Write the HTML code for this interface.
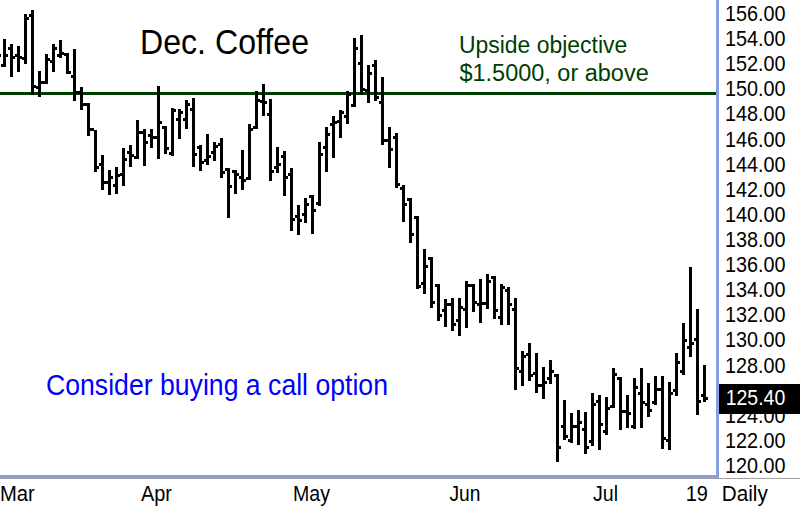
<!DOCTYPE html>
<html><head><meta charset="utf-8"><style>
html,body{margin:0;padding:0;background:#fff;}
body{width:800px;height:510px;overflow:hidden;position:relative;}
svg{position:absolute;left:0;top:0;}
text{font-family:"Liberation Sans",sans-serif;}
</style></head><body>
<svg width="800" height="510" viewBox="0 0 800 510">
<rect x="0" y="0" width="800" height="510" fill="#fff"/>
<g shape-rendering="crispEdges">
<rect x="0" y="92" width="716" height="3" fill="#003d00"/>
<g fill="#000"><rect x="3" y="39" width="3" height="28"/><rect x="1" y="64" width="2" height="3"/><rect x="6" y="54" width="2" height="3"/><rect x="10" y="44" width="3" height="33"/><rect x="8" y="47" width="2" height="3"/><rect x="13" y="56" width="2" height="3"/><rect x="17" y="46" width="3" height="26"/><rect x="15" y="54" width="2" height="3"/><rect x="20" y="56" width="2" height="3"/><rect x="24" y="14" width="3" height="50"/><rect x="22" y="57" width="2" height="3"/><rect x="27" y="17" width="2" height="3"/><rect x="31" y="10" width="3" height="85"/><rect x="29" y="14" width="2" height="3"/><rect x="34" y="85" width="2" height="3"/><rect x="38" y="71" width="3" height="26"/><rect x="36" y="86" width="2" height="3"/><rect x="41" y="81" width="2" height="3"/><rect x="45" y="54" width="3" height="30"/><rect x="43" y="81" width="2" height="3"/><rect x="48" y="58" width="2" height="3"/><rect x="52" y="44" width="3" height="28"/><rect x="50" y="60" width="2" height="3"/><rect x="55" y="47" width="2" height="3"/><rect x="59" y="40" width="3" height="18"/><rect x="57" y="54" width="2" height="3"/><rect x="62" y="52" width="2" height="3"/><rect x="66" y="53" width="3" height="21"/><rect x="64" y="53" width="2" height="3"/><rect x="69" y="71" width="2" height="3"/><rect x="73" y="49" width="3" height="52"/><rect x="71" y="75" width="2" height="3"/><rect x="76" y="91" width="2" height="3"/><rect x="80" y="87" width="3" height="23"/><rect x="78" y="91" width="2" height="3"/><rect x="83" y="103" width="2" height="3"/><rect x="87" y="103" width="3" height="33"/><rect x="85" y="103" width="2" height="3"/><rect x="90" y="128" width="2" height="3"/><rect x="94" y="130" width="3" height="42"/><rect x="92" y="128" width="2" height="3"/><rect x="97" y="166" width="2" height="3"/><rect x="101" y="155" width="3" height="35"/><rect x="99" y="163" width="2" height="3"/><rect x="104" y="181" width="2" height="3"/><rect x="108" y="170" width="3" height="25"/><rect x="106" y="181" width="2" height="3"/><rect x="111" y="176" width="2" height="3"/><rect x="115" y="167" width="3" height="27"/><rect x="113" y="184" width="2" height="3"/><rect x="118" y="174" width="2" height="3"/><rect x="122" y="148" width="3" height="38"/><rect x="120" y="173" width="2" height="3"/><rect x="125" y="158" width="2" height="3"/><rect x="129" y="145" width="3" height="22"/><rect x="127" y="151" width="2" height="3"/><rect x="132" y="154" width="2" height="3"/><rect x="136" y="120" width="3" height="39"/><rect x="134" y="156" width="2" height="3"/><rect x="139" y="131" width="2" height="3"/><rect x="143" y="129" width="3" height="37"/><rect x="141" y="131" width="2" height="3"/><rect x="146" y="141" width="2" height="3"/><rect x="150" y="129" width="3" height="19"/><rect x="148" y="134" width="2" height="3"/><rect x="153" y="136" width="2" height="3"/><rect x="157" y="86" width="3" height="73"/><rect x="155" y="136" width="2" height="3"/><rect x="160" y="121" width="2" height="3"/><rect x="164" y="126" width="3" height="28"/><rect x="162" y="126" width="2" height="3"/><rect x="167" y="147" width="2" height="3"/><rect x="171" y="108" width="3" height="48"/><rect x="169" y="152" width="2" height="3"/><rect x="174" y="109" width="2" height="3"/><rect x="178" y="109" width="3" height="30"/><rect x="176" y="118" width="2" height="3"/><rect x="181" y="111" width="2" height="3"/><rect x="185" y="100" width="3" height="29"/><rect x="183" y="118" width="2" height="3"/><rect x="188" y="103" width="2" height="3"/><rect x="192" y="98" width="3" height="69"/><rect x="190" y="108" width="2" height="3"/><rect x="195" y="153" width="2" height="3"/><rect x="199" y="145" width="3" height="26"/><rect x="197" y="146" width="2" height="3"/><rect x="202" y="161" width="2" height="3"/><rect x="206" y="134" width="3" height="31"/><rect x="204" y="159" width="2" height="3"/><rect x="209" y="155" width="2" height="3"/><rect x="213" y="142" width="3" height="19"/><rect x="211" y="151" width="2" height="3"/><rect x="216" y="145" width="2" height="3"/><rect x="220" y="138" width="3" height="40"/><rect x="218" y="143" width="2" height="3"/><rect x="223" y="171" width="2" height="3"/><rect x="227" y="168" width="3" height="50"/><rect x="225" y="168" width="2" height="3"/><rect x="230" y="185" width="2" height="3"/><rect x="234" y="170" width="3" height="24"/><rect x="232" y="170" width="2" height="3"/><rect x="237" y="173" width="2" height="3"/><rect x="241" y="150" width="3" height="40"/><rect x="239" y="176" width="2" height="3"/><rect x="244" y="179" width="2" height="3"/><rect x="248" y="124" width="3" height="56"/><rect x="246" y="177" width="2" height="3"/><rect x="251" y="128" width="2" height="3"/><rect x="255" y="91" width="3" height="38"/><rect x="253" y="126" width="2" height="3"/><rect x="258" y="99" width="2" height="3"/><rect x="262" y="84" width="3" height="32"/><rect x="260" y="100" width="2" height="3"/><rect x="265" y="101" width="2" height="3"/><rect x="269" y="99" width="3" height="82"/><rect x="267" y="113" width="2" height="3"/><rect x="272" y="170" width="2" height="3"/><rect x="276" y="147" width="3" height="26"/><rect x="274" y="166" width="2" height="3"/><rect x="279" y="163" width="2" height="3"/><rect x="283" y="151" width="3" height="45"/><rect x="281" y="155" width="2" height="3"/><rect x="286" y="176" width="2" height="3"/><rect x="290" y="168" width="3" height="63"/><rect x="288" y="173" width="2" height="3"/><rect x="293" y="218" width="2" height="3"/><rect x="297" y="205" width="3" height="30"/><rect x="295" y="215" width="2" height="3"/><rect x="300" y="219" width="2" height="3"/><rect x="304" y="198" width="3" height="25"/><rect x="302" y="213" width="2" height="3"/><rect x="307" y="203" width="2" height="3"/><rect x="311" y="195" width="3" height="39"/><rect x="309" y="195" width="2" height="3"/><rect x="314" y="209" width="2" height="3"/><rect x="318" y="142" width="3" height="64"/><rect x="316" y="202" width="2" height="3"/><rect x="321" y="153" width="2" height="3"/><rect x="325" y="127" width="3" height="45"/><rect x="323" y="146" width="2" height="3"/><rect x="328" y="133" width="2" height="3"/><rect x="332" y="116" width="3" height="42"/><rect x="330" y="123" width="2" height="3"/><rect x="335" y="121" width="2" height="3"/><rect x="339" y="110" width="3" height="28"/><rect x="337" y="120" width="2" height="3"/><rect x="342" y="111" width="2" height="3"/><rect x="346" y="91" width="3" height="33"/><rect x="344" y="115" width="2" height="3"/><rect x="349" y="93" width="2" height="3"/><rect x="353" y="38" width="3" height="69"/><rect x="351" y="104" width="2" height="3"/><rect x="356" y="47" width="2" height="3"/><rect x="360" y="35" width="3" height="60"/><rect x="358" y="62" width="2" height="3"/><rect x="363" y="88" width="2" height="3"/><rect x="367" y="65" width="3" height="38"/><rect x="365" y="89" width="2" height="3"/><rect x="370" y="72" width="2" height="3"/><rect x="374" y="60" width="3" height="41"/><rect x="372" y="64" width="2" height="3"/><rect x="377" y="96" width="2" height="3"/><rect x="381" y="77" width="3" height="68"/><rect x="379" y="101" width="2" height="3"/><rect x="384" y="139" width="2" height="3"/><rect x="388" y="127" width="3" height="41"/><rect x="386" y="139" width="2" height="3"/><rect x="391" y="148" width="2" height="3"/><rect x="395" y="133" width="3" height="55"/><rect x="393" y="136" width="2" height="3"/><rect x="398" y="183" width="2" height="3"/><rect x="402" y="185" width="3" height="37"/><rect x="400" y="187" width="2" height="3"/><rect x="405" y="203" width="2" height="3"/><rect x="409" y="198" width="3" height="45"/><rect x="407" y="198" width="2" height="3"/><rect x="412" y="233" width="2" height="3"/><rect x="416" y="216" width="3" height="73"/><rect x="414" y="216" width="2" height="3"/><rect x="419" y="285" width="2" height="3"/><rect x="423" y="249" width="3" height="45"/><rect x="421" y="282" width="2" height="3"/><rect x="426" y="265" width="2" height="3"/><rect x="430" y="257" width="3" height="51"/><rect x="428" y="257" width="2" height="3"/><rect x="433" y="301" width="2" height="3"/><rect x="437" y="284" width="3" height="37"/><rect x="435" y="284" width="2" height="3"/><rect x="440" y="314" width="2" height="3"/><rect x="444" y="299" width="3" height="28"/><rect x="442" y="309" width="2" height="3"/><rect x="447" y="303" width="2" height="3"/><rect x="451" y="298" width="3" height="33"/><rect x="449" y="303" width="2" height="3"/><rect x="454" y="323" width="2" height="3"/><rect x="458" y="298" width="3" height="38"/><rect x="456" y="319" width="2" height="3"/><rect x="461" y="306" width="2" height="3"/><rect x="465" y="281" width="3" height="47"/><rect x="463" y="308" width="2" height="3"/><rect x="468" y="284" width="2" height="3"/><rect x="472" y="284" width="3" height="28"/><rect x="470" y="284" width="2" height="3"/><rect x="475" y="301" width="2" height="3"/><rect x="479" y="279" width="3" height="44"/><rect x="477" y="303" width="2" height="3"/><rect x="482" y="302" width="2" height="3"/><rect x="486" y="274" width="3" height="35"/><rect x="484" y="302" width="2" height="3"/><rect x="489" y="280" width="2" height="3"/><rect x="493" y="276" width="3" height="43"/><rect x="491" y="276" width="2" height="3"/><rect x="496" y="309" width="2" height="3"/><rect x="500" y="284" width="3" height="41"/><rect x="498" y="316" width="2" height="3"/><rect x="503" y="286" width="2" height="3"/><rect x="507" y="287" width="3" height="38"/><rect x="505" y="289" width="2" height="3"/><rect x="510" y="303" width="2" height="3"/><rect x="514" y="298" width="3" height="92"/><rect x="512" y="308" width="2" height="3"/><rect x="517" y="367" width="2" height="3"/><rect x="521" y="351" width="3" height="35"/><rect x="519" y="370" width="2" height="3"/><rect x="524" y="355" width="2" height="3"/><rect x="528" y="343" width="3" height="38"/><rect x="526" y="353" width="2" height="3"/><rect x="531" y="374" width="2" height="3"/><rect x="535" y="353" width="3" height="40"/><rect x="533" y="372" width="2" height="3"/><rect x="538" y="384" width="2" height="3"/><rect x="542" y="367" width="3" height="32"/><rect x="540" y="384" width="2" height="3"/><rect x="545" y="381" width="2" height="3"/><rect x="549" y="360" width="3" height="24"/><rect x="547" y="377" width="2" height="3"/><rect x="552" y="370" width="2" height="3"/><rect x="556" y="374" width="3" height="88"/><rect x="554" y="374" width="2" height="3"/><rect x="559" y="446" width="2" height="3"/><rect x="563" y="400" width="3" height="40"/><rect x="561" y="425" width="2" height="3"/><rect x="566" y="435" width="2" height="3"/><rect x="570" y="413" width="3" height="30"/><rect x="568" y="439" width="2" height="3"/><rect x="573" y="425" width="2" height="3"/><rect x="577" y="410" width="3" height="35"/><rect x="575" y="425" width="2" height="3"/><rect x="580" y="421" width="2" height="3"/><rect x="584" y="412" width="3" height="42"/><rect x="582" y="428" width="2" height="3"/><rect x="587" y="446" width="2" height="3"/><rect x="591" y="393" width="3" height="53"/><rect x="589" y="440" width="2" height="3"/><rect x="594" y="403" width="2" height="3"/><rect x="598" y="395" width="3" height="55"/><rect x="596" y="400" width="2" height="3"/><rect x="601" y="423" width="2" height="3"/><rect x="605" y="397" width="3" height="38"/><rect x="603" y="430" width="2" height="3"/><rect x="608" y="407" width="2" height="3"/><rect x="612" y="368" width="3" height="40"/><rect x="610" y="405" width="2" height="3"/><rect x="615" y="373" width="2" height="3"/><rect x="619" y="377" width="3" height="53"/><rect x="617" y="377" width="2" height="3"/><rect x="622" y="410" width="2" height="3"/><rect x="626" y="395" width="3" height="33"/><rect x="624" y="410" width="2" height="3"/><rect x="629" y="412" width="2" height="3"/><rect x="633" y="378" width="3" height="51"/><rect x="631" y="425" width="2" height="3"/><rect x="636" y="386" width="2" height="3"/><rect x="640" y="368" width="3" height="60"/><rect x="638" y="392" width="2" height="3"/><rect x="643" y="401" width="2" height="3"/><rect x="647" y="383" width="3" height="34"/><rect x="645" y="403" width="2" height="3"/><rect x="650" y="409" width="2" height="3"/><rect x="654" y="376" width="3" height="29"/><rect x="652" y="401" width="2" height="3"/><rect x="657" y="388" width="2" height="3"/><rect x="661" y="376" width="3" height="73"/><rect x="659" y="388" width="2" height="3"/><rect x="664" y="437" width="2" height="3"/><rect x="668" y="382" width="3" height="68"/><rect x="666" y="439" width="2" height="3"/><rect x="671" y="392" width="2" height="3"/><rect x="675" y="353" width="3" height="43"/><rect x="673" y="389" width="2" height="3"/><rect x="678" y="361" width="2" height="3"/><rect x="682" y="323" width="3" height="52"/><rect x="680" y="370" width="2" height="3"/><rect x="685" y="339" width="2" height="3"/><rect x="689" y="267" width="3" height="90"/><rect x="687" y="346" width="2" height="3"/><rect x="692" y="342" width="2" height="3"/><rect x="696" y="309" width="3" height="106"/><rect x="694" y="338" width="2" height="3"/><rect x="699" y="400" width="2" height="3"/><rect x="703" y="365" width="3" height="37"/><rect x="701" y="394" width="2" height="3"/><rect x="706" y="397" width="2" height="3"/><rect x="-1" y="54" width="2" height="3"/></g>
<rect x="0" y="478" width="800" height="1" fill="#a0a0a0"/>
<rect x="0" y="475" width="719" height="3" fill="#8a9fdf"/>
<rect x="716" y="0" width="3" height="478" fill="#8a9fdf"/>
</g>
<text x="140.00" y="53.80" font-size="35.10" fill="#000" textLength="169.00" lengthAdjust="spacingAndGlyphs">Dec. Coffee</text><text x="459.00" y="53.00" font-size="23.07" fill="#003d00" textLength="168.20" lengthAdjust="spacingAndGlyphs">Upside objective</text><text x="459.50" y="81.00" font-size="23.07" fill="#003d00" textLength="189.20" lengthAdjust="spacingAndGlyphs">$1.5000, or above</text><text x="46.00" y="395.00" font-size="29.20" fill="#0000ff" textLength="342.00" lengthAdjust="spacingAndGlyphs">Consider buying a call option</text><text x="0.00" y="501.00" font-size="21.17" fill="#000" textLength="34.80" lengthAdjust="spacingAndGlyphs">Mar</text><text x="141.00" y="501.00" font-size="21.17" fill="#000" textLength="31.00" lengthAdjust="spacingAndGlyphs">Apr</text><text x="293.00" y="501.00" font-size="21.17" fill="#000" textLength="37.00" lengthAdjust="spacingAndGlyphs">May</text><text x="449.50" y="501.00" font-size="21.17" fill="#000" textLength="31.00" lengthAdjust="spacingAndGlyphs">Jun</text><text x="593.00" y="501.00" font-size="21.17" fill="#000" textLength="25.00" lengthAdjust="spacingAndGlyphs">Jul</text><text x="685.75" y="501.00" font-size="21.17" fill="#000" textLength="22.20" lengthAdjust="spacingAndGlyphs">19</text><text x="721.75" y="501.00" font-size="21.17" fill="#000" textLength="46.00" lengthAdjust="spacingAndGlyphs">Daily</text><text x="724.90" y="20.50" font-size="21.17" fill="#000" textLength="60.60" lengthAdjust="spacingAndGlyphs">156.00</text><text x="724.90" y="45.50" font-size="21.17" fill="#000" textLength="60.60" lengthAdjust="spacingAndGlyphs">154.00</text><text x="724.90" y="70.50" font-size="21.17" fill="#000" textLength="60.60" lengthAdjust="spacingAndGlyphs">152.00</text><text x="724.90" y="95.50" font-size="21.17" fill="#000" textLength="60.60" lengthAdjust="spacingAndGlyphs">150.00</text><text x="724.90" y="120.50" font-size="21.17" fill="#000" textLength="60.60" lengthAdjust="spacingAndGlyphs">148.00</text><text x="724.90" y="146.50" font-size="21.17" fill="#000" textLength="60.60" lengthAdjust="spacingAndGlyphs">146.00</text><text x="724.90" y="171.50" font-size="21.17" fill="#000" textLength="60.60" lengthAdjust="spacingAndGlyphs">144.00</text><text x="724.90" y="196.50" font-size="21.17" fill="#000" textLength="60.60" lengthAdjust="spacingAndGlyphs">142.00</text><text x="724.90" y="221.50" font-size="21.17" fill="#000" textLength="60.60" lengthAdjust="spacingAndGlyphs">140.00</text><text x="724.90" y="246.50" font-size="21.17" fill="#000" textLength="60.60" lengthAdjust="spacingAndGlyphs">138.00</text><text x="724.90" y="271.50" font-size="21.17" fill="#000" textLength="60.60" lengthAdjust="spacingAndGlyphs">136.00</text><text x="724.90" y="296.50" font-size="21.17" fill="#000" textLength="60.60" lengthAdjust="spacingAndGlyphs">134.00</text><text x="724.90" y="321.50" font-size="21.17" fill="#000" textLength="60.60" lengthAdjust="spacingAndGlyphs">132.00</text><text x="724.90" y="346.50" font-size="21.17" fill="#000" textLength="60.60" lengthAdjust="spacingAndGlyphs">130.00</text><text x="724.90" y="372.50" font-size="21.17" fill="#000" textLength="60.60" lengthAdjust="spacingAndGlyphs">128.00</text><text x="724.90" y="447.50" font-size="21.17" fill="#000" textLength="60.60" lengthAdjust="spacingAndGlyphs">122.00</text><text x="724.90" y="472.50" font-size="21.17" fill="#000" textLength="60.60" lengthAdjust="spacingAndGlyphs">120.00</text><text x="724.90" y="422.50" font-size="21.17" fill="#000" textLength="60.60" lengthAdjust="spacingAndGlyphs">124.00</text><rect x="719" y="384" width="81" height="30" fill="#000" shape-rendering="crispEdges"/><text x="725.70" y="404.50" font-size="21.17" fill="#fff" textLength="59.60" lengthAdjust="spacingAndGlyphs">125.40</text>
</svg>
</body></html>
